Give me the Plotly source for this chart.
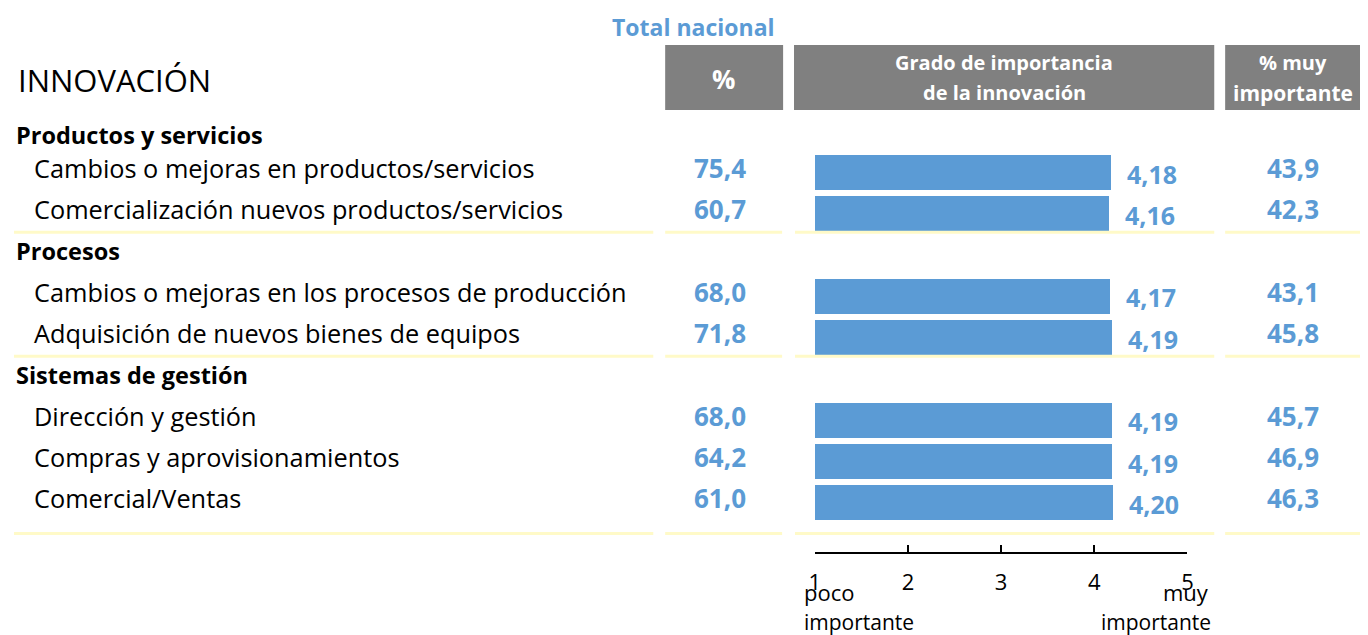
import plotly.graph_objects as go

# ---- data ----
groups = ["Productos y servicios", "Procesos", "Sistemas de gestión"]
items = [
    "Cambios o mejoras en productos/servicios",
    "Comercialización nuevos productos/servicios",
    "Cambios o mejoras en los procesos de producción",
    "Adquisición de nuevos bienes de equipos",
    "Dirección y gestión",
    "Compras y aprovisionamientos",
    "Comercial/Ventas",
]
item_group = [0, 0, 1, 1, 2, 2, 2]
pct = [75.4, 60.7, 68.0, 71.8, 68.0, 64.2, 61.0]
grado = [4.18, 4.16, 4.17, 4.19, 4.19, 4.19, 4.20]
pct_muy = [43.9, 42.3, 43.1, 45.8, 45.7, 46.9, 46.3]
scale_ticks = [1, 2, 3, 4, 5]

BLUE = "#5B9BD5"
GRAY = "#808080"
YEL = "#FFFAC8"
FONT = "Open Sans"

# page geometry (page body has an 8px margin)
OFF = 8
W, H = 1368 - 2 * OFF, 635 - OFF


def fmt(v, d=1):
    return f"{v:.{d}f}".replace(".", ",")


def px(x):
    return (x - OFF) / W


def py(y):
    return 1 - (y - OFF) / H


ann = []
shapes = []


def text(t, x, y, size, color="black", bold=False, xanchor="center"):
    ann.append(dict(text=t, x=px(x), y=py(y), xref="paper", yref="paper",
                    xanchor=xanchor, yanchor="middle", showarrow=False,
                    font=dict(family=FONT, size=size, color=color,
                              weight="bold" if bold else "normal")))


# row layout (pixel y of each text line)
step = 41.3
ys_items = []
ys_groups = []
y = 168.0
for i, g in enumerate(item_group):
    if i > 0 and g != item_group[i - 1]:
        ys_groups.append(y)
        y += step
    ys_items.append(y)
    y += step
ys_groups = [135] + ys_groups

bar_y = [v + 4.5 for v in ys_items]

fig = go.Figure()
fig.add_trace(go.Bar(
    x=[v - 1 for v in grado], base=[1] * len(grado), y=bar_y, orientation="h",
    width=35, marker=dict(color=BLUE, line=dict(width=0)),
    hovertext=items, customdata=grado,
    hovertemplate="%{hovertext}: %{customdata}<extra></extra>",
))

text("Total nacional", 694, 27, 23, BLUE, True)
text("INNOVACIÓN", 10, 80, 31, xanchor="left")

# header boxes
for x0, x1 in [(665, 784), (795, 1219), (1230, 1372)]:
    shapes.append(dict(type="rect", xref="paper", yref="paper", x0=px(x0), x1=px(x1),
                       y0=py(110), y1=py(45), fillcolor=GRAY, line=dict(width=0), layer="below"))
text("%", 724, 79, 26, "white", True)
text("Grado de importancia", 1007, 62, 20, "white", True)
text("de la innovación", 1007, 93, 20, "white", True)
text("% muy", 1298, 62, 20, "white", True)
text("importante", 1298, 93, 21, "white", True)

for g, yy in zip(groups, ys_groups):
    text(g, 8, yy, 23.5, "black", True, xanchor="left")

for i, name in enumerate(items):
    yy = ys_items[i]
    text(name, 26, yy, 25.3, xanchor="left")
    text(fmt(pct[i]), 720, yy, 26, BLUE, True)
    text(fmt(pct_muy[i]), 1298, yy, 26, BLUE, True)
    ann.append(dict(text=fmt(grado[i], 2), x=grado[i], y=bar_y[i] + 1, xref="x", yref="y",
                    xanchor="left", yanchor="middle", xshift=14, showarrow=False,
                    font=dict(family=FONT, size=25, color=BLUE, weight="bold")))

# yellow separators after each group
sep_y = []
for i in range(len(item_group)):
    if i == len(item_group) - 1:
        sep_y.append(ys_items[i] + 35)
    elif item_group[i + 1] != item_group[i]:
        sep_y.append(ys_items[i] + 23)
for sy in sep_y:
    for x0, x1 in [(8, 653), (665, 783), (796, 1219), (1230, 1372)]:
        shapes.append(dict(type="line", xref="paper", yref="paper", x0=px(x0), x1=px(x1),
                           y0=py(sy), y1=py(sy), line=dict(color=YEL, width=3)))

# scale annotations
text("poco", 803, 592, 22, xanchor="left")
text("importante", 803, 622, 21, xanchor="left")
text("muy", 1216, 592, 22, xanchor="right")
text("importante", 1218, 622, 21, xanchor="right")

fig.update_layout(
    width=W, height=H, margin=dict(l=0, r=0, t=0, b=0),
    paper_bgcolor="white", plot_bgcolor="rgba(0,0,0,0)",
    showlegend=False, bargap=0,
    annotations=ann, shapes=shapes,
    xaxis=dict(domain=[px(816), px(1192)], range=[1, 5], anchor="free", position=py(553),
               showline=True, linecolor="black", linewidth=1.5, ticks="inside", ticklen=7,
               tickwidth=1.5, tickcolor="black", tickvals=scale_ticks,
               ticktext=[str(t) for t in scale_ticks], showgrid=False, zeroline=False,
               ticklabelstandoff=10,
               tickfont=dict(family=FONT, size=22, color="black"), fixedrange=True),
    yaxis=dict(domain=[0, 1], range=[635, OFF], visible=False, fixedrange=True),
)

fig.write_html("out.html")
